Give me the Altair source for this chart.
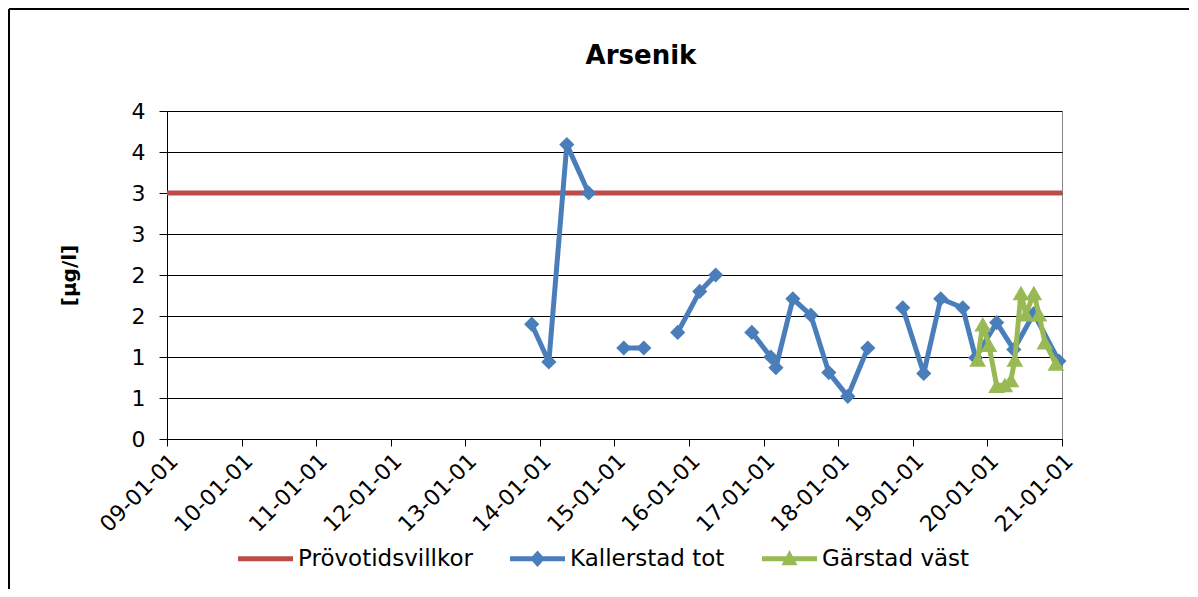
import altair as alt
import pandas as pd

# ---------------- data ----------------
TITLE = "Arsenik"
SERIES = ["Prövotidsvillkor", "Kallerstad tot", "Gärstad väst"]

LIMIT_VALUE = 3.0

K_DATES = ["2013-11-22", "2014-02-14", "2014-05-13", "2014-08-28",
           "2015-02-16", "2015-05-25",
           "2015-11-07", "2016-02-23", "2016-05-11",
           "2016-11-04", "2017-02-05", "2017-03-02", "2017-05-24", "2017-08-20",
           "2017-11-16", "2018-02-17", "2018-05-26",
           "2018-11-13", "2019-02-24", "2019-05-18", "2019-09-03", "2019-11-05",
           "2020-02-16", "2020-05-10", "2020-08-16", "2020-12-17"]
K_VALUES = [1.40, 0.94, 3.59, 3.00,
            1.11, 1.11,
            1.30, 1.80, 2.00,
            1.30, 1.00, 0.87, 1.71, 1.51,
            0.81, 0.52, 1.11,
            1.60, 0.80, 1.71, 1.60, 0.99,
            1.42, 1.09, 1.53, 0.95]
K_SEGMENTS = [1, 1, 1, 1,
              2, 2,
              3, 3, 3,
              4, 4, 4, 4, 4, 4, 4, 4,
              5, 5, 5, 5, 5, 5, 5, 5, 5]

G_DATES = ["2019-11-15", "2019-12-10", "2020-01-09", "2020-02-16", "2020-03-27",
           "2020-04-26", "2020-05-15", "2020-06-14", "2020-07-08", "2020-08-16",
           "2020-09-10", "2020-10-09", "2020-12-02"]
G_VALUES = [0.97, 1.40, 1.15, 0.65, 0.66,
            0.72, 0.97, 1.78, 1.52, 1.78,
            1.52, 1.18, 0.92]

X_TICK_YEARS = list(range(2009, 2022))
Y_TICKS = [0, 0.5, 1, 1.5, 2, 2.5, 3, 3.5, 4]

# ---------------- styling ----------------
COLORS = ["#BE4B48", "#4A7EBB", "#98B954"]
FONT = "DejaVu Sans"
W, H = 895, 328

# legend symbols: line with marker (custom paths in [-1,1] box)
LEG_PATHS = [
    "M-1,-0.09L1,-0.09L1,0.09L-1,0.09Z",
    "M-1,-0.09L1,-0.09L1,0.09L-1,0.09Z M0,-0.3L0.27,0L0,0.3L-0.27,0Z",
    "M-1,-0.09L1,-0.09L1,0.09L-1,0.09Z M0,-0.32L0.29,0.24L-0.29,0.24Z",
]

k_df = pd.DataFrame({"date": K_DATES, "value": K_VALUES, "seg": K_SEGMENTS})
g_df = pd.DataFrame({"date": G_DATES, "value": G_VALUES})
leg_df = pd.DataFrame({"series": SERIES})
lim_df = pd.DataFrame({"value": [LIMIT_VALUE]})
title_df = pd.DataFrame({"t": [TITLE]})

x_ticks_ms = [int(pd.Timestamp(f"{y}-01-01", tz="UTC").value // 10**6) for y in X_TICK_YEARS]

x_enc = alt.X(
    "date:T",
    scale=alt.Scale(type="utc", domain=[x_ticks_ms[0], x_ticks_ms[-1]], nice=False),
    axis=alt.Axis(values=x_ticks_ms, labelExpr="utcFormat(datum.value, '%y-%m-%d')",
                  labelAngle=-45, tickSize=7, labelPadding=4, grid=False, title=None,
                  labelFont=FONT, labelFontSize=22, labelColor="#000",
                  domainColor="#000", tickColor="#000", labelOverlap=False),
)
y_scale = alt.Scale(domain=[0, 4], nice=False, zero=True)
y_enc = alt.Y(
    "value:Q", scale=y_scale,
    axis=alt.Axis(values=Y_TICKS, format=".0f", tickSize=8, labelPadding=14,
                  labelFont=FONT, labelFontSize=22, labelColor="#000",
                  title="[µg/l]", titleFont=FONT, titleFontSize=20, titleFontWeight="bold",
                  titleColor="#000", titlePadding=52,
                  grid=True, gridColor="#000", gridWidth=1,
                  domainColor="#000", tickColor="#000"),
)

limit = alt.Chart(lim_df).mark_rule(color=COLORS[0], strokeWidth=5).encode(
    y=alt.Y("value:Q", scale=y_scale)
)

k_line = alt.Chart(k_df).mark_line(
    color=COLORS[1], strokeWidth=5, strokeJoin="round", strokeCap="round"
).encode(x=x_enc, y=y_enc, detail="seg:N")
k_pts = alt.Chart(k_df).mark_point(
    shape="diamond", filled=True, size=230, opacity=1, color=COLORS[1]
).encode(x="date:T", y="value:Q")

g_line = alt.Chart(g_df).mark_line(
    color=COLORS[2], strokeWidth=5, strokeJoin="round", strokeCap="round"
).encode(x="date:T", y="value:Q")
g_pts = alt.Chart(g_df).mark_point(
    shape="triangle-up", filled=True, size=280, opacity=1, color=COLORS[2]
).encode(x="date:T", y="value:Q")

legend = alt.Legend(
    orient="none", legendX=71, legendY=420, direction="horizontal", title=None,
    labelFont=FONT, labelFontSize=23, labelColor="#000", labelOffset=5,
    symbolSize=3025, symbolStrokeWidth=0, columnPadding=37, labelLimit=400,
)
leg_layer = alt.Chart(leg_df).mark_point(filled=True, opacity=1).encode(
    color=alt.Color("series:N", scale=alt.Scale(domain=SERIES, range=COLORS), legend=legend),
    shape=alt.Shape("series:N", scale=alt.Scale(domain=SERIES, range=LEG_PATHS), legend=legend),
).transform_filter("false")

# chart title as text above the plot
title_mark = alt.Chart(title_df).mark_text(
    font=FONT, fontSize=26, fontWeight="bold", color="#000",
    align="center", baseline="alphabetic",
).encode(x=alt.value(474), y=alt.value(-47), text="t:N")

# outer chart frame (top and left edges)
frame_top = alt.Chart(lim_df).mark_rule(color="#000", strokeWidth=2).encode(
    x=alt.value(-158), x2=alt.value(1022), y=alt.value(-102)
)
frame_left = alt.Chart(lim_df).mark_rule(color="#000", strokeWidth=2).encode(
    x=alt.value(-158), y=alt.value(-102), y2=alt.value(478)
)

chart = alt.layer(
    limit, k_line, k_pts, g_line, g_pts, leg_layer, title_mark, frame_top, frame_left
).properties(
    width=W, height=H,
).configure(
    padding=0,
).configure_view(
    stroke="#868686", strokeWidth=1,
)

chart.save("out.html", embed_options={"renderer": "svg", "actions": False})
